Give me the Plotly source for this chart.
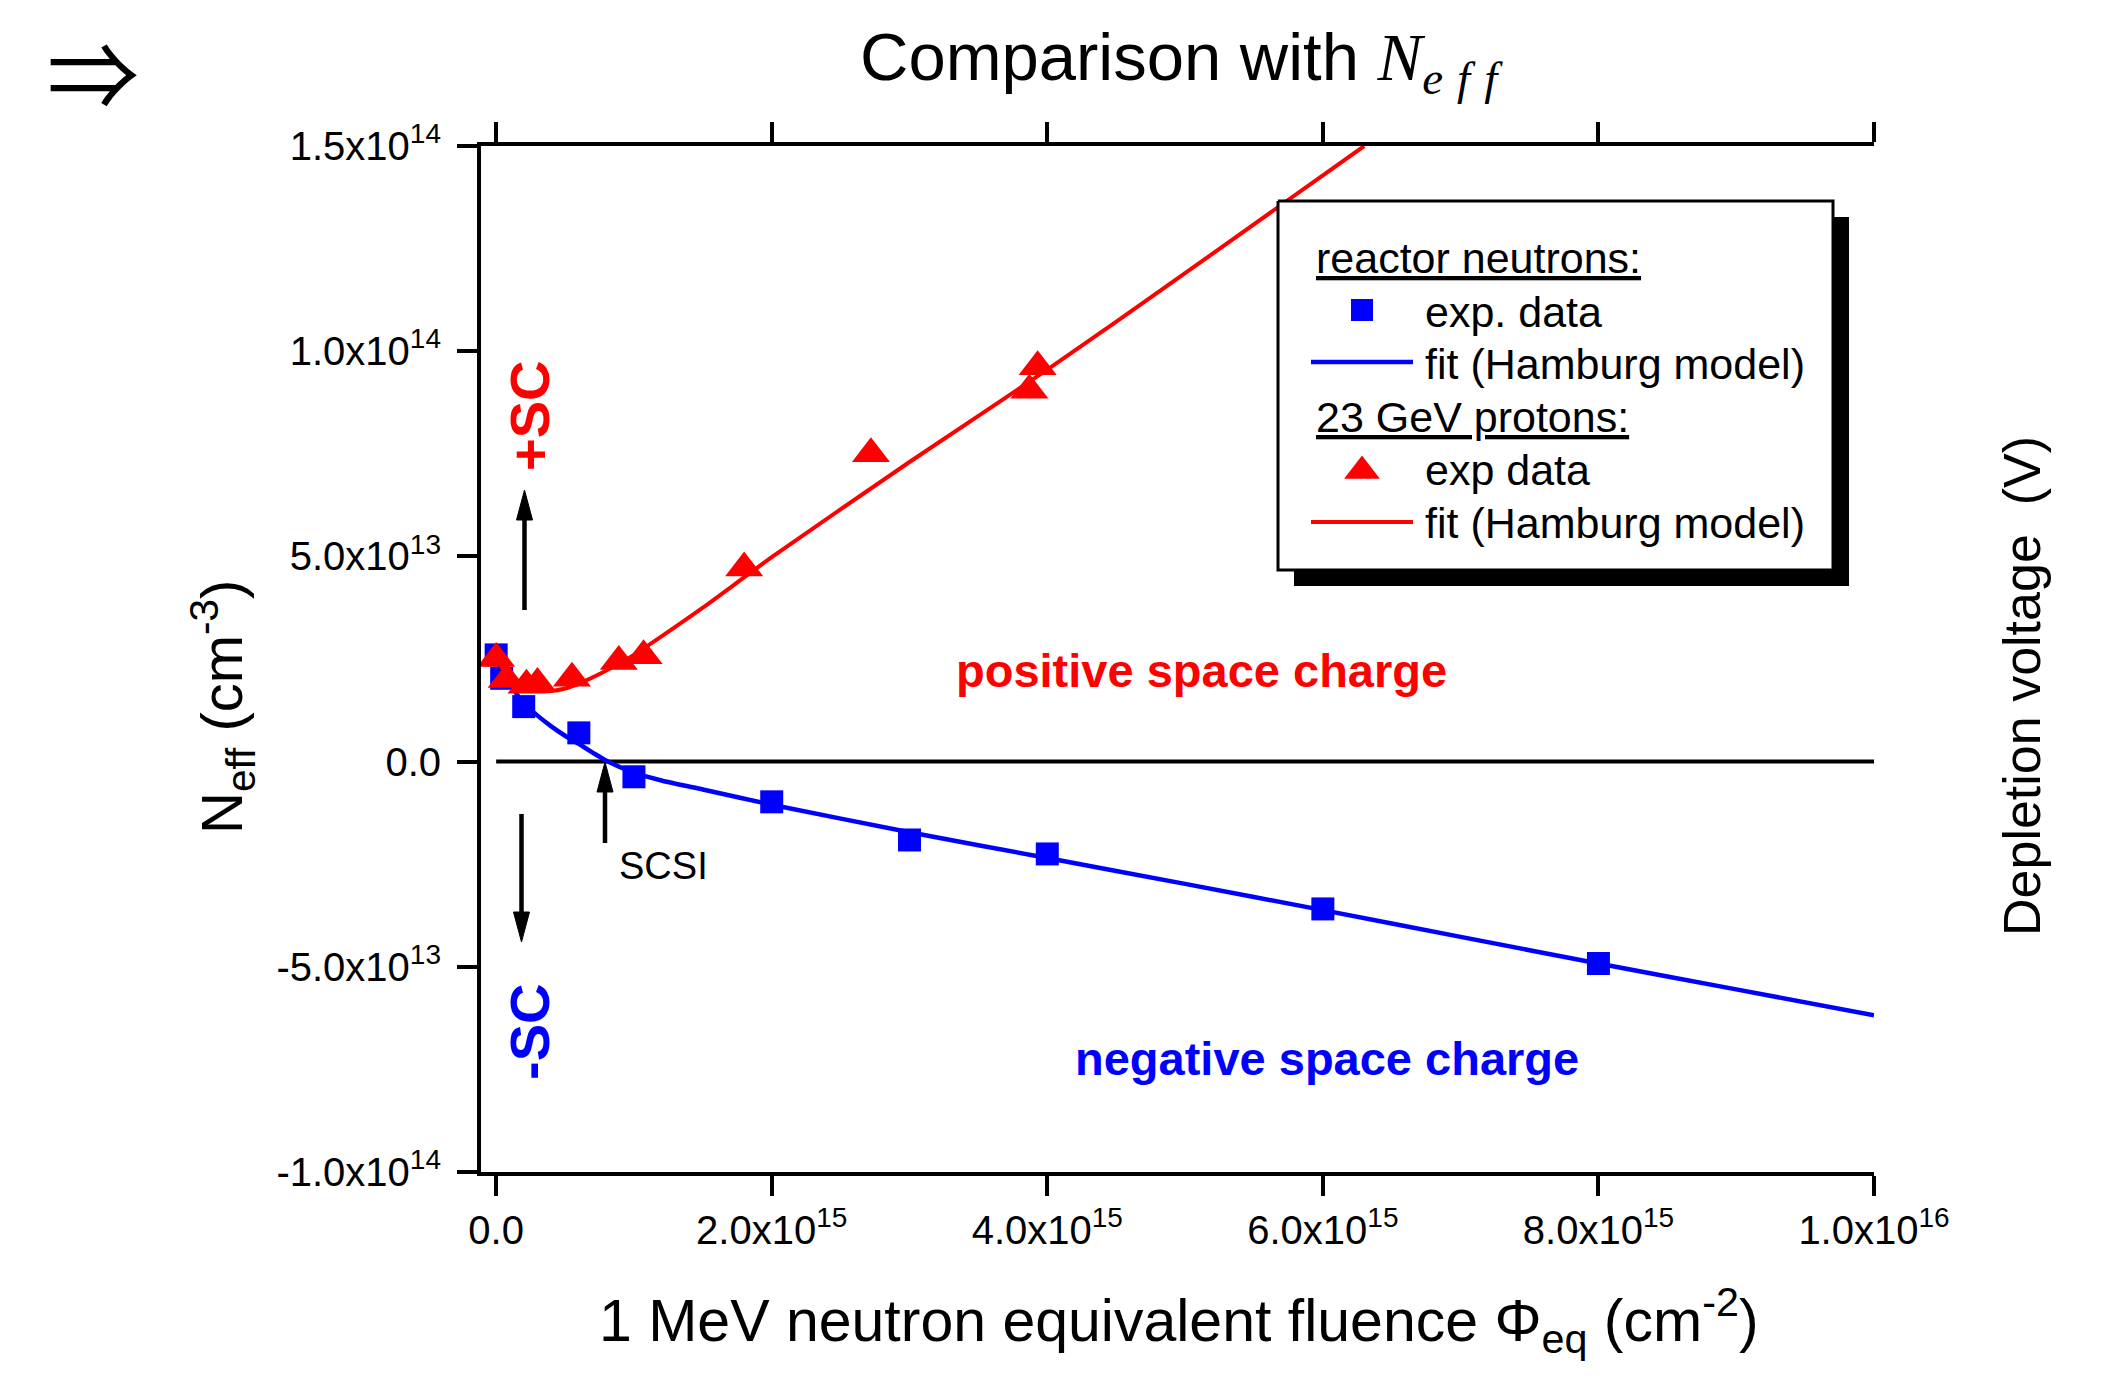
import plotly.graph_objects as go

# ---- data: reactor neutrons ----
fluence_n = [0, 4e13, 2e14, 6e14, 1e15, 2e15, 3e15, 4e15, 6e15, 8e15]
neff_n = [2.6e13, 2.03e13, 1.34e13, 7.0e12, -3.7e12, -9.8e12, -1.91e13, -2.25e13, -3.59e13, -4.92e13]

fit_n_x = [0, 5e13, 1e14, 2e14, 3e14, 4e14, 5e14, 6e14, 7e14, 8e14, 1e15, 1.2e15, 1.5e15,
           2e15, 3e15, 4e15, 5e15, 6e15, 7e15, 8e15, 9e15, 1e16]
fit_n_y = [2.55e13, 2.2e13, 1.9e13, 1.42e13, 1.12e13, 8.6e12, 6.3e12, 4.3e12, 2.2e12, 2e11,
           -2.7e12, -4.6e12, -6.8e12, -1.05e13, -1.72e13, -2.35e13, -2.98e13, -3.62e13,
           -4.27e13, -4.92e13, -5.55e13, -6.18e13]

# ---- data: 23 GeV protons ----
fluence_p = [0, 7.6e13, 2.2e14, 3.0e14, 5.5e14, 8.9e14, 1.07e15, 1.8e15, 2.72e15, 3.87e15, 3.93e15]
neff_p = [2.51e13, 2.0e13, 1.86e13, 1.9e13, 2.03e13, 2.44e13, 2.58e13, 4.72e13, 7.5e13, 9.05e13, 9.62e13]

fit_p_x = [0, 5e13, 1e14, 2e14, 3e14, 4e14, 5e14, 6e14, 8e14, 1e15, 1.2e15, 1.5e15,
           2e15, 3e15, 4e15, 5e15, 6.3e15]
fit_p_y = [2.52e13, 2.25e13, 2.05e13, 1.82e13, 1.73e13, 1.72e13, 1.78e13, 1.9e13, 2.22e13,
           2.6e13, 3.05e13, 3.75e13, 4.98e13, 7.3e13, 9.55e13, 1.19e14, 1.5e14]

# ---- axis ticks ----
x_tickvals = [0, 2e15, 4e15, 6e15, 8e15, 1e16]
x_ticktext = ["0.0", "2.0x10<sup>15</sup>", "4.0x10<sup>15</sup>", "6.0x10<sup>15</sup>",
              "8.0x10<sup>15</sup>", "1.0x10<sup>16</sup>"]
y_tickvals = [-1e14, -5e13, 0, 5e13, 1e14, 1.5e14]
y_ticktext = ["-1.0x10<sup>14</sup>", "-5.0x10<sup>13</sup>", "0.0", "5.0x10<sup>13</sup>",
              "1.0x10<sup>14</sup>", "1.5x10<sup>14</sup>"]
v_ticktext = ["400", "200", "0", "200", "400", "600"]

X_RANGE = [-1.1e14, 1e16]
Y_RANGE = [-1e14, 1.5e14]

SANS = "Liberation Sans, Arial, Helvetica, sans-serif"
BLUE = "#0000FF"
RED = "#FF0000"

# plot-area frame in figure pixels
PL, PR, PT, PB = 481, 1874, 146, 1172
W, H = 2108, 1376


def px(x):
    return (x - PL) / (PR - PL)


def py(y):
    return (PB - y) / (PB - PT)


fig = go.Figure()

fig.add_trace(go.Scatter(x=fit_n_x, y=fit_n_y, mode="lines",
                         line=dict(color=BLUE, width=4.5, shape="spline", smoothing=0.6)))
fig.add_trace(go.Scatter(x=fluence_n, y=neff_n, mode="markers",
                         marker=dict(symbol="square", size=23, color=BLUE, line=dict(width=0))))
fig.add_trace(go.Scatter(x=fit_p_x, y=fit_p_y, mode="lines",
                         line=dict(color=RED, width=4, shape="spline", smoothing=0.6)))
fig.add_trace(go.Scatter(x=fluence_p, y=neff_p, mode="markers",
                         marker=dict(symbol="triangle-up", size=33, color=RED, line=dict(width=0))))

# ---- legend box, drawn on a pixel-scaled overlay ----
LB = dict(x0=1278, x1=1833, y0=201, y1=570)
SH = 16
fig.add_trace(go.Scatter(
    x=[LB["x0"] + SH, LB["x1"] + SH, LB["x1"] + SH, LB["x0"] + SH, LB["x0"] + SH],
    y=[LB["y0"] + SH, LB["y0"] + SH, LB["y1"] + SH, LB["y1"] + SH, LB["y0"] + SH],
    mode="lines", fill="toself", fillcolor="black", line=dict(width=0, color="black"),
    xaxis="x2", yaxis="y3"))
fig.add_trace(go.Scatter(
    x=[LB["x0"], LB["x1"], LB["x1"], LB["x0"], LB["x0"]],
    y=[LB["y0"], LB["y0"], LB["y1"], LB["y1"], LB["y0"]],
    mode="lines", fill="toself", fillcolor="white", line=dict(width=3, color="black"),
    xaxis="x2", yaxis="y3"))
# legend keys
fig.add_trace(go.Scatter(x=[1362], y=[310], mode="markers", xaxis="x2", yaxis="y3",
                         marker=dict(symbol="square", size=22, color=BLUE)))
fig.add_trace(go.Scatter(x=[1311, 1413], y=[362, 362], mode="lines", xaxis="x2", yaxis="y3",
                         line=dict(color=BLUE, width=4.5)))
fig.add_trace(go.Scatter(x=[1362], y=[471], mode="markers", xaxis="x2", yaxis="y3",
                         marker=dict(symbol="triangle-up", size=31, color=RED)))
fig.add_trace(go.Scatter(x=[1311, 1413], y=[522, 522], mode="lines", xaxis="x2", yaxis="y3",
                         line=dict(color=RED, width=4)))

legend_rows = [
    (1314, 258, "<u>reactor neutrons:</u>"),
    (1423, 312, "exp. data"),
    (1423, 364, "fit (Hamburg model)"),
    (1314, 417, "<u>23 GeV protons:</u>"),
    (1423, 470, "exp data"),
    (1423, 523, "fit (Hamburg model)"),
]

annotations = []
for lx, ly, txt in legend_rows:
    annotations.append(dict(x=lx, y=ly, xref="x2", yref="y3", text=txt, showarrow=False,
                            xanchor="left", yanchor="middle",
                            font=dict(family=SANS, size=43, color="black")))

# region labels
region_labels = [
    (529, 416, "<b>+SC</b>", -90, 56, RED),
    (529, 1032, "<b>-SC</b>", -90, 56, BLUE),
    (1201, 670, "<b>positive space charge</b>", 0, 47, RED),
    (1327, 1058, "<b>negative space charge</b>", 0, 47, BLUE),
    (663, 866, "SCSI", 0, 38, "black"),
]
for lx, ly, txt, ang, size, col in region_labels:
    annotations.append(dict(x=lx, y=ly, xref="x2", yref="y3", text=txt, textangle=ang,
                            showarrow=False, xanchor="center", yanchor="middle",
                            font=dict(family=SANS, size=size, color=col)))

# titles (figure-pixel positions converted to paper units)
titles = [
    (1185, 62, 0, "middle",
     "Comparison with <span style=\"font-family:Liberation Serif, serif\"><i>N</i>"
     "<sub><i><span style=\"letter-spacing:14px\">eff</span></i></sub></span>", SANS, 67),
    (93, 1, 0, "top", "\u21d2", "Noto Sans CJK SC, DejaVu Sans, sans-serif", 92),
    (1179, 1320, 0, "middle",
     "1 MeV neutron equivalent fluence \u03a6<sub>eq</sub> (cm<sup>-2</sup>)", SANS, 59),
    (222, 707, -90, "middle", "N<sub>eff</sub> (cm<sup>-3</sup>)", SANS, 58),
    (2022, 686, -90, "middle", "Depletion voltage\u00a0 (V)", SANS, 52),
]
for tx, ty, ang, yanc, txt, fam, size in titles:
    annotations.append(dict(x=px(tx), y=py(ty), xref="paper", yref="paper", text=txt,
                            textangle=ang, showarrow=False, xanchor="center", yanchor=yanc,
                            font=dict(family=fam, size=size, color="black")))


# arrows (shaft + filled head), in figure pixels on the overlay
def arrow(x, y_tail, y_tip, head_len=30, head_w=16):
    d = 1 if y_tip > y_tail else -1
    base = y_tip - d * head_len
    return [
        dict(type="line", xref="x2", yref="y3", x0=x, x1=x, y0=y_tail, y1=base,
             line=dict(color="black", width=4.5), layer="above"),
        dict(type="path", xref="x2", yref="y3", layer="above",
             path=f"M{x - head_w / 2},{base} L{x + head_w / 2},{base} L{x},{y_tip} Z",
             fillcolor="black", line=dict(color="black", width=1)),
    ]


shapes = [dict(type="line", xref="x", yref="y", x0=0, x1=1e16, y0=0, y1=0,
               line=dict(color="black", width=4), layer="below")]
shapes += arrow(524.5, 610, 490)
shapes += arrow(521.5, 814, 942)
shapes += arrow(605, 843, 762)

axis_common = dict(showline=True, linecolor="black", linewidth=4, ticks="outside",
                   ticklen=20, tickwidth=3.5, tickcolor="black", showgrid=False, zeroline=False,
                   tickfont=dict(family=SANS, size=40, color="black"), automargin=False)

fig.update_layout(
    template="none",
    width=W, height=H,
    margin=dict(l=PL, r=W - PR, t=PT, b=H - PB, pad=0),
    paper_bgcolor="white", plot_bgcolor="white",
    showlegend=False,
    xaxis=dict(range=X_RANGE, tickmode="array", tickvals=x_tickvals, ticktext=x_ticktext,
               mirror="ticks", **axis_common),
    yaxis=dict(range=Y_RANGE, tickmode="array", tickvals=y_tickvals, ticktext=y_ticktext,
               ticklabelstandoff=8, **axis_common),
    yaxis2=dict(range=Y_RANGE, tickmode="array", tickvals=y_tickvals, ticktext=v_ticktext,
                overlaying="y", side="right", anchor="x", **axis_common),
    xaxis2=dict(range=[PL, PR], overlaying="x", anchor="y3", visible=False, fixedrange=True),
    yaxis3=dict(range=[PB, PT], overlaying="y", anchor="x2", visible=False, fixedrange=True),
    annotations=annotations,
    shapes=shapes,
)

fig.write_html("out.html")
